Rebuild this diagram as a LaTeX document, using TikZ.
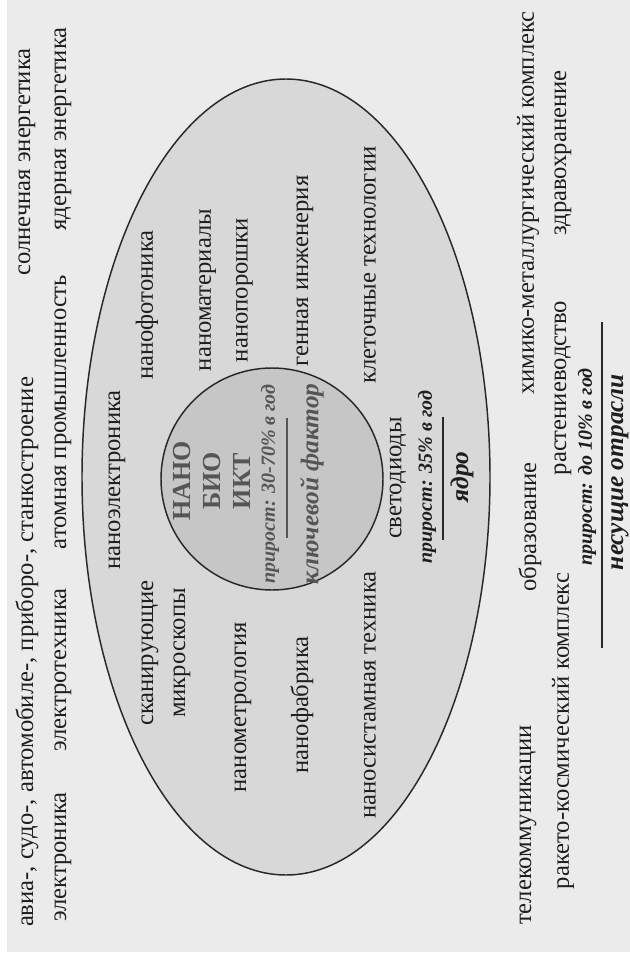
\documentclass[tikz,border=0pt]{standalone}
\usepackage{fontspec}
\setmainfont{Liberation Serif}
\tikzset{every picture/.style={line width=0.75pt}}
\tikzset{
  sector/.style={rotate=90, inner sep=0pt, align=center, text={rgb, 255:red, 30; green, 30; blue, 30 }, font=\fontsize{18.5}{24}\selectfont},
  growth/.style={rotate=90, inner sep=0pt, text={rgb, 255:red, 30; green, 30; blue, 30 }, font=\fontsize{15}{18}\selectfont\bfseries\itshape},
  level/.style={rotate=90, inner sep=0pt, text={rgb, 255:red, 30; green, 30; blue, 30 }, font=\fontsize{19}{22}\selectfont\bfseries\itshape},
  hub/.style={rotate=90, inner sep=0pt, align=center, text={rgb, 255:red, 85; green, 85; blue, 85 }, font=\fontsize{19.5}{22.5}\selectfont\bfseries},
  divider/.style={line width=1.1pt, draw={rgb, 255:red, 40; green, 40; blue, 40 }},
}

\begin{document}
\begin{tikzpicture}[x=0.75pt,y=0.75pt,yscale=-1,xscale=1]
	\useasboundingbox (0,0) rectangle (630,959);

	%Shape: Rectangle [id:background] 
	\fill [fill={rgb, 255:red, 235; green, 235; blue, 235 }] (7,0) rectangle (630,952) ;
	%Shape: Ellipse [id:industries] 
	\draw [line width=1.1pt, draw={rgb, 255:red, 40; green, 40; blue, 40 }, fill={rgb, 255:red, 216; green, 216; blue, 216 }] (286,477) ellipse (204 and 398) ;
	%Shape: Circle [id:keyfactor] 
	\draw [line width=1.1pt, draw={rgb, 255:red, 40; green, 40; blue, 40 }, fill={rgb, 255:red, 198; green, 198; blue, 198 }] (272,479) circle (111) ;

	%Straight Lines [id:keyrule] 
	\draw [divider, draw={rgb, 255:red, 85; green, 85; blue, 85 }] (287,418) -- (287,538) ;
	%Straight Lines [id:corerule] 
	\draw [divider] (443,417) -- (443,540) ;
	%Straight Lines [id:baserule] 
	\draw [divider] (602,322) -- (602,648) ;

	% Text Node
	\node [sector] (mach) at (27,652) {авиа-, судо-, автомобиле-, приборо-, станкостроение};
	% Text Node
	\node [sector] (solar) at (27,162) {солнечная энергетика};
	% Text Node
	\node [sector] (elec) at (63,857) {электроника};
	% Text Node
	\node [sector] (electro) at (63,670) {электротехника};
	% Text Node
	\node [sector] (atom) at (63,412) {атомная промышленность};
	% Text Node
	\node [sector] (nuclear) at (63,129) {ядерная энергетика};

	% Text Node
	\node [sector] (nanoel) at (117,480) {наноэлектроника};
	% Text Node
	\node [sector] (photon) at (147,305) {нанофотоника};
	% Text Node
	\node [sector, font=\fontsize{18.5}{24}\selectfont] (scan) at (166,653) {сканирующие\\микроскопы};
	% Text Node
	\node [sector, font=\fontsize{18.5}{27.5}\selectfont] (mater) at (226,290) {наноматериалы\\нанопорошки};
	% Text Node
	\node [sector] (metro) at (243,707) {нанометрология};
	% Text Node
	\node [sector] (fab) at (302,705) {нанофабрика};
	% Text Node
	\node [sector] (gene) at (305,271) {генная инженерия};
	% Text Node
	\node [sector] (cell) at (370,265) {клеточные технологии};
	% Text Node
	\node [sector] (nsys) at (370,695) {наносистамная техника};
	% Text Node
	\node [sector] (led) at (398,478) {светодиоды};
	% Text Node
	\node [growth] (coregrow) at (427,477) {прирост: 35\% в год};
	% Text Node
	\node [level] (core) at (462,477) {ядро};

	% Text Node
	\node [hub] (hubname) at (212,481) {НАНО\\БИО\\ИКТ};
	% Text Node
	\node [growth, text={rgb, 255:red, 85; green, 85; blue, 85 }] (keygrow) at (270,484) {прирост: 30-70\% в год};
	% Text Node
	\node [level, text={rgb, 255:red, 85; green, 85; blue, 85 }] (key) at (312,484) {ключевой фактор};

	% Text Node
	\node [sector] (telecom) at (528,825) {телекоммуникации};
	% Text Node
	\node [sector] (edu) at (530,527) {образование};
	% Text Node
	\node [sector] (chem) at (528,203) {химико-металлургический комплекс};
	% Text Node
	\node [sector] (rocket) at (563,731) {ракето-космический комплекс};
	% Text Node
	\node [sector] (plant) at (563,388) {растениеводство};
	% Text Node
	\node [sector] (health) at (563,153) {здравохранение};
	% Text Node
	\node [growth] (basegrow) at (587,467) {прирост: до 10\% в год};
	% Text Node
	\node [level] (base) at (620,472) {несущие отрасли};

\end{tikzpicture}
\end{document}
